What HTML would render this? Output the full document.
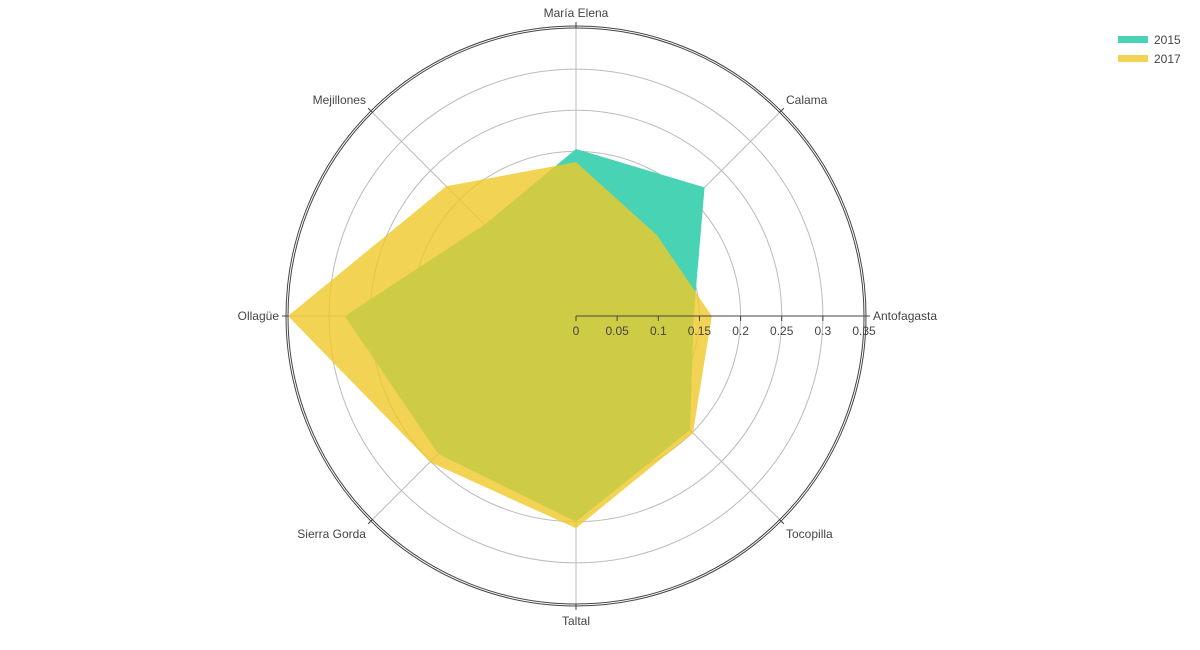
<!DOCTYPE html>
<html><head><meta charset="utf-8"><style>
body{margin:0;background:#fff;font-family:"Liberation Sans",sans-serif;}
svg text{font-family:"Liberation Sans",sans-serif;font-size:12px;fill:#444;}
</style></head><body>
<svg id="chart" width="1200" height="645">
<g id="grid"></g>
<g id="series"></g>
<g id="axes"></g>
<g>
<g><rect x="1118" y="36" width="30" height="7" fill="#48d4b4"></rect><text x="1154" y="44">2015</text></g>
<g><rect x="1118" y="55" width="30" height="7" fill="#f3d353"></rect><text x="1154" y="63">2017</text></g>
</g>
</svg>
<script>
const categories=["Antofagasta","Calama","María Elena","Mejillones","Ollagüe","Sierra Gorda","Taltal","Tocopilla"];
const values2015=[0.143,0.221,0.203,0.157,0.281,0.237,0.25,0.196];
const values2017=[0.165,0.139,0.187,0.223,0.35,0.251,0.258,0.201];
const ticks=[0,0.05,0.1,0.15,0.2,0.25,0.3,0.35];
const tickLabels=["0","0.05","0.1","0.15","0.2","0.25","0.3","0.35"];
const cx=576,cy=316,R=288,rmax=0.35;
const NS="http://www.w3.org/2000/svg";
function r(v){return v/rmax*R;}
function ang(i){return i*2*Math.PI/categories.length;}
function pt(i,v){return [cx+r(v)*Math.cos(ang(i)),cy-r(v)*Math.sin(ang(i))];}
function mk(tag,attrs,parent){const e=document.createElementNS(NS,tag);for(const k in attrs)e.setAttribute(k,attrs[k]);parent.appendChild(e);return e;}
const grid=document.getElementById('grid'),series=document.getElementById('series'),axes=document.getElementById('axes');
ticks.forEach((t,k)=>{if(t===0||t===rmax)return;const c=mk('circle',{cx:cx,cy:cy,r:r(t),fill:'none',stroke:'#bbb','stroke-width':1},grid);

});
categories.forEach((c,i)=>{const p=pt(i,rmax);const l=mk('line',{x1:cx,y1:cy,x2:p[0],y2:p[1],stroke:'#bbb','stroke-width':1},grid);

});
function poly(vals,fill,name){const pts=vals.map((v,i)=>pt(i,v).join(',')).join(' ');const p=mk('polygon',{points:pts,fill:fill},series);

}
poly(values2015,'#48d4b4','series-2015-area');
poly(values2017,'rgba(240,200,40,0.8)','series-2017-area');
const o1=mk('circle',{cx:cx,cy:cy,r:R,fill:'none',stroke:'#444','stroke-width':1},axes);


const o2=mk('circle',{cx:cx,cy:cy,r:R+2,fill:'none',stroke:'#444','stroke-width':1},axes);


const ax=mk('line',{x1:cx,y1:cy,x2:cx+R,y2:cy,stroke:'#444','stroke-width':1},axes);


ticks.forEach((t,k)=>{const x=cx+r(t);const tk=mk('line',{x1:x,y1:cy,x2:x,y2:cy+5,stroke:'#444'},axes);


const tx=mk('text',{x:x,y:cy+19,'text-anchor':'middle'},axes);tx.textContent=tickLabels[k];

});
categories.forEach((c,i)=>{const a=ang(i),p1=pt(i,rmax),p2=[cx+(R+6)*Math.cos(a),cy-(R+6)*Math.sin(a)];
const tk=mk('line',{x1:p1[0],y1:p1[1],x2:p2[0],y2:p2[1],stroke:'#444'},axes);


const cs=Math.cos(a),sn=Math.sin(a);let anchor=Math.abs(cs)<0.1?'middle':(cs>0?'start':'end');
const lx=cx+(R+9)*cs,ly=cy-(R+9)*sn+(Math.abs(sn)<0.1?4:(sn>0?-2:12));
const t=mk('text',{x:lx,y:ly,'text-anchor':anchor},axes);t.textContent=c;

});
</script>
</body></html>
